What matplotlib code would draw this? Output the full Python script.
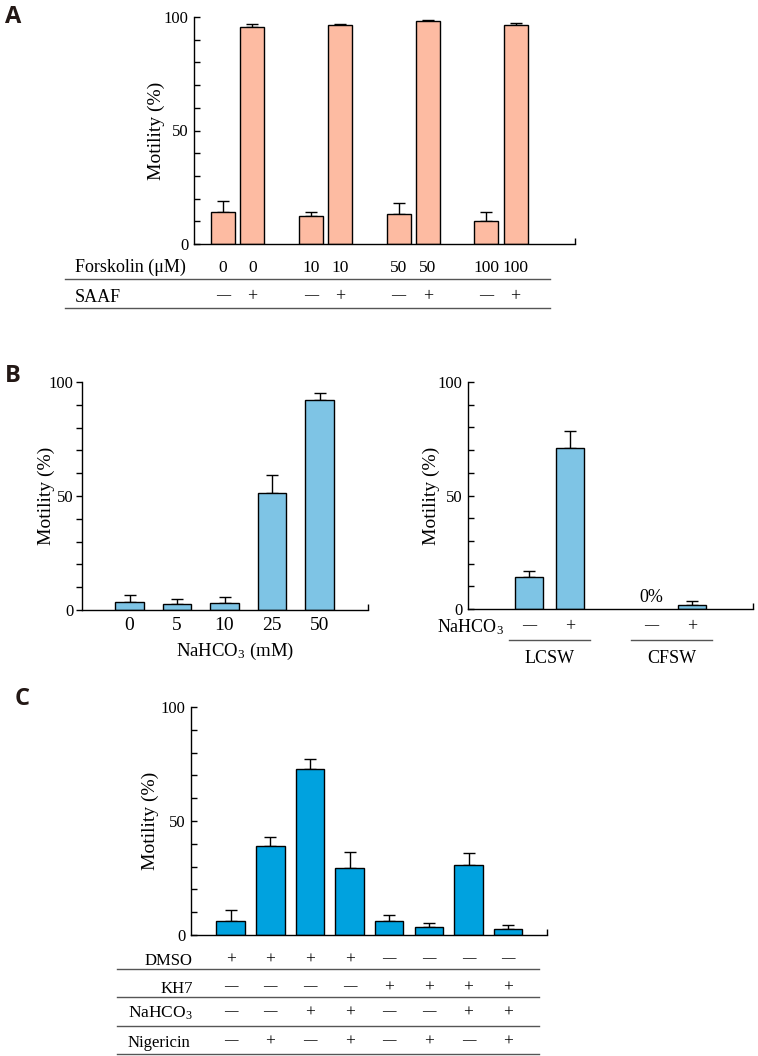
import matplotlib
matplotlib.use("Agg")
import matplotlib.pyplot as plt
from matplotlib.ticker import MultipleLocator
from matplotlib.transforms import blended_transform_factory
from matplotlib.lines import Line2D

plt.rcParams['font.family'] = ['Liberation Serif', 'DejaVu Serif']
plt.rcParams['mathtext.fontset'] = 'custom'
plt.rcParams['mathtext.rm'] = 'Liberation Serif'
plt.rcParams['mathtext.it'] = 'Liberation Serif:italic'

W, H = 758, 1056

# ---- data ----
# A: forskolin +/- SAAF
a_forskolin = ['0', '0', '10', '10', '50', '50', '100', '100']
a_saaf = ['-', '+', '-', '+', '-', '+', '-', '+']
a_mean = [13.9, 95.4, 12.2, 96.5, 13.4, 98.1, 10.0, 96.6]
a_top = [18.8, 96.9, 14.2, 96.8, 18.2, 98.5, 14.1, 97.4]

# B left: NaHCO3 dose
b1_labels = ['0', '5', '10', '25', '50']
b1_mean = [3.7, 2.8, 3.1, 51.5, 92.0]
b1_top = [6.4, 5.0, 5.7, 59.1, 95.3]

# B right: LCSW / CFSW
b2_groups = ['LCSW', 'CFSW']
b2_nahco3 = ['-', '+', '-', '+']
b2_mean = [14.0, 70.9, 0.0, 1.9]
b2_top = [16.7, 78.4, 0.0, 3.4]

# C: inhibitors
c_rows = ['DMSO', 'KH7', 'NaHCO$_3$', 'Nigericin']
c_dmso = ['+', '+', '+', '+', '-', '-', '-', '-']
c_kh7 = ['-', '-', '-', '-', '+', '+', '+', '+']
c_nahco3 = ['-', '-', '+', '+', '-', '-', '+', '+']
c_nig = ['-', '+', '-', '+', '-', '+', '-', '+']
c_mean = [6.1, 39.2, 72.8, 29.6, 6.3, 3.5, 30.9, 2.5]
c_top = [11.1, 42.9, 77.3, 36.2, 8.9, 5.3, 36.0, 4.4]

fig = plt.figure(figsize=(W / 100, H / 100), dpi=100)


def fy(ypx):
    return 1 - ypx / H


def add_ax(left, right, top, bottom):
    return fig.add_axes([left / W, fy(bottom), (right - left) / W, (bottom - top) / H])


def put_sign(ax, tr, x, base, s, size):
    # dash drawn a bit smaller and lifted so it sits level with the middle of '+'
    if s == '-':
        ax.text(x, fy(base - 2), '—', transform=tr, fontsize=size * 0.78,
                ha='center', va='baseline', clip_on=False)
    else:
        ax.text(x, fy(base), '+', transform=tr, fontsize=size,
                ha='center', va='baseline', clip_on=False)


def draw_panel(ax, x, mean, top, color, width, xlim, tickdir, label_right, ax_left, ax_w):
    xs = [xi for xi, m in zip(x, mean) if m > 0]
    ms = [m for m in mean if m > 0]
    ts = [t for t, m in zip(top, mean) if m > 0]
    ax.bar(xs, ms, width=width, color=color, edgecolor='black', linewidth=1.0, zorder=2)
    ax.errorbar(xs, ms, yerr=[[0] * len(ms), [t - m for t, m in zip(ts, ms)]],
                fmt='none', ecolor='black', elinewidth=1.0, capsize=4, capthick=1.0, zorder=1)
    ax.set_xlim(*xlim)
    ax.set_ylim(0, 100)
    for s in ['top', 'right']:
        ax.spines[s].set_visible(False)
    for s in ['left', 'bottom']:
        ax.spines[s].set_linewidth(1.0)
    ax.yaxis.set_major_locator(MultipleLocator(50))
    ax.yaxis.set_minor_locator(MultipleLocator(10))
    ax.tick_params(axis='y', which='both', direction=tickdir, length=4, width=1.0,
                   labelsize=12, pad=2 if tickdir == 'out' else 4)
    ax.set_xticks([])
    ax.set_xticks([xlim[1] - 0.01], minor=True)
    ax.tick_params(axis='x', which='minor', direction='in', length=4, width=1.0)
    ax.set_ylabel('Motility (%)', fontsize=14)
    ax.yaxis.set_label_coords((label_right - ax_left) / ax_w, 0.5)


# ---- panel A ----
axA = add_ax(194, 575, 17, 244)
xa = [3 * (i // 2) + i % 2 for i in range(len(a_mean))]
draw_panel(axA, xa, a_mean, a_top, '#FDBBA2', 0.82, (-0.99, 12.03), 'in', 165, 194, 381)
trA = blended_transform_factory(axA.transData, fig.transFigure)
fig.text(75 / W, fy(272), 'Forskolin (μM)', fontsize=13, ha='left', va='baseline')
fig.text(75 / W, fy(302), 'SAAF', fontsize=13, ha='left', va='baseline')
for xi, f, s in zip(xa, a_forskolin, a_saaf):
    axA.text(xi, fy(272), f, transform=trA, fontsize=12.5, ha='center', va='baseline', clip_on=False)
    put_sign(axA, trA, xi, 301, s, 13)
for ypx in [279, 308]:
    fig.add_artist(Line2D([65 / W, 550 / W], [fy(ypx), fy(ypx)], color='#555555', lw=1.0))

# ---- panel B left ----
axB1 = add_ax(82, 368, 382, 610)
xb1 = list(range(len(b1_mean)))
draw_panel(axB1, xb1, b1_mean, b1_top, '#7EC4E5', 0.6, (-1.0, 5.02), 'out', 55, 82, 286)
trB1 = blended_transform_factory(axB1.transData, fig.transFigure)
for xi, lab in zip(xb1, b1_labels):
    axB1.text(xi, fy(630), lab, transform=trB1, fontsize=14, ha='center', va='baseline', clip_on=False)
fig.text(((82 + 368) / 2 + 10) / W, fy(656), 'NaHCO$_3$ (mM)', fontsize=13.5, ha='center', va='baseline')

# ---- panel B right ----
axB2 = add_ax(468, 753, 382, 609)
xb2 = [3 * (i // 2) + i % 2 for i in range(len(b2_mean))]
draw_panel(axB2, xb2, b2_mean, b2_top, '#7EC4E5', 0.69, (-1.5, 5.5), 'in', 440, 468, 285)
trB2 = blended_transform_factory(axB2.transData, fig.transFigure)
for xi, m in zip(xb2, b2_mean):
    if m == 0:
        axB2.text(xi, 3.0, '0%', fontsize=13, ha='center', va='baseline')
fig.text(437 / W, fy(632), 'NaHCO$_3$', fontsize=13, ha='left', va='baseline')
for xi, s in zip(xb2, b2_nahco3):
    put_sign(axB2, trB2, xi, 631, s, 13)
for g, name in enumerate(b2_groups):
    gx = xb2[2 * g:2 * g + 2]
    axB2.add_line(Line2D([gx[0] - 0.5, gx[1] + 0.5], [fy(640), fy(640)], transform=trB2,
                         color='#555555', lw=1.0, clip_on=False))
    axB2.text((gx[0] + gx[1]) / 2, fy(663), name, transform=trB2, fontsize=13,
              ha='center', va='baseline', clip_on=False)

# ---- panel C ----
axC = add_ax(191, 547, 707, 935)
xc = list(range(len(c_mean)))
draw_panel(axC, xc, c_mean, c_top, '#00A2DF', 0.72, (-1.0, 7.98), 'in', 159, 191, 356)
trC = blended_transform_factory(axC.transData, fig.transFigure)
c_table = [c_dmso, c_kh7, c_nahco3, c_nig]
c_base = [965, 993, 1018, 1047]
c_lines = [969, 997, 1026, 1054]
c_label_x = [(192, 'right'), (193, 'right'), (128, 'left'), (128, 'left')]
for row, vals, base, ly, (lx, ha) in zip(c_rows, c_table, c_base, c_lines, c_label_x):
    fig.text(lx / W, fy(base), row, fontsize=12.5 if '$' in row else 12, ha=ha, va='baseline')
    for xi, s in zip(xc, vals):
        put_sign(axC, trC, xi, base - 1, s, 12.5)
    fig.add_artist(Line2D([117 / W, 539 / W], [fy(ly), fy(ly)], color='#555555', lw=1.0))

# ---- panel letters ----
for letter, (px, py) in zip('ABC', [(5, 23), (5, 382), (15, 705)]):
    fig.text(px / W, fy(py), letter, fontsize=17, fontweight='bold',
             family=['Open Sans', 'DejaVu Sans'], ha='left', va='baseline', color='#231815')

fig.savefig('out.png', dpi=100)
